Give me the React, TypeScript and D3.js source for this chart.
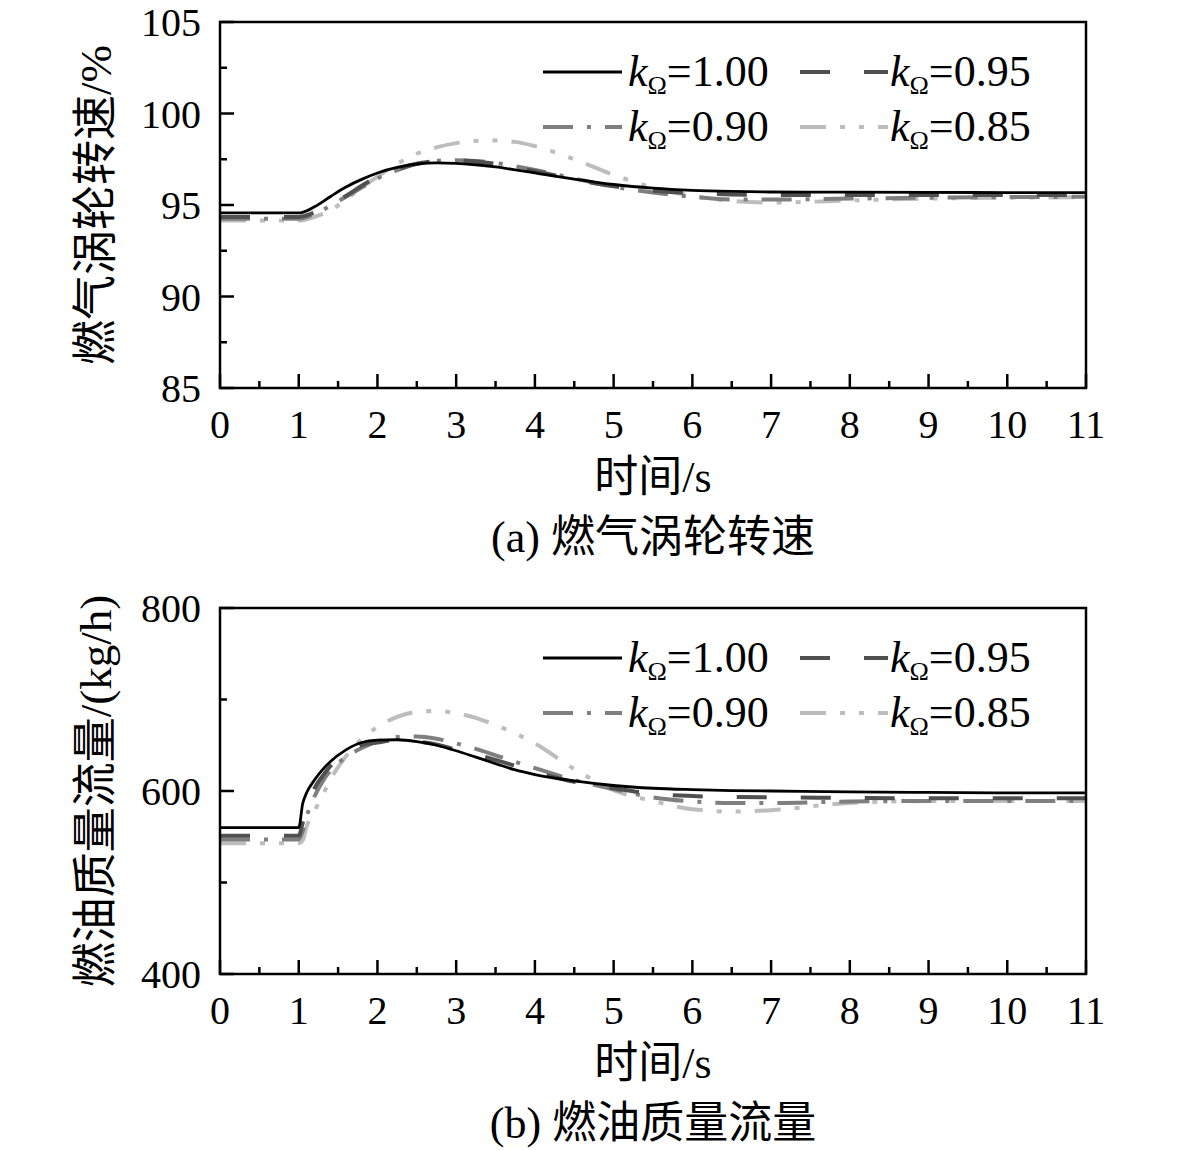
import * as d3 from "d3"

// time grids (s)
const timeA = [0, 1.0, 1.05, 1.2, 1.4, 1.6, 1.8, 2.0, 2.25, 2.5, 2.75, 3.0, 3.25, 3.5, 3.75, 4.0, 4.5, 5.0, 5.5, 6.0, 6.5, 7.0, 8.0, 9.0, 10.0, 11.0]
const timeB = [0, 1.0, 1.05, 1.1, 1.2, 1.3, 1.4, 1.6, 1.8, 2.0, 2.25, 2.5, 2.75, 3.0, 3.25, 3.5, 3.75, 4.0, 4.5, 5.0, 5.5, 6.0, 6.5, 7.0, 8.0, 9.0, 10.0, 11.0]

// gas turbine speed (%)
const speed100 = [94.57, 94.57, 94.6, 94.9, 95.45, 95.98, 96.4, 96.75, 97.05, 97.24, 97.3, 97.28, 97.2, 97.08, 96.92, 96.75, 96.42, 96.12, 95.92, 95.8, 95.74, 95.71, 95.7, 95.69, 95.68, 95.68]
const speed95 = [94.35, 94.35, 94.38, 94.6, 95.0, 95.5, 96.05, 96.55, 96.95, 97.25, 97.4, 97.45, 97.38, 97.25, 97.05, 96.85, 96.4, 96.02, 95.78, 95.65, 95.58, 95.55, 95.55, 95.55, 95.55, 95.55]
const speed90 = [94.25, 94.25, 94.28, 94.5, 94.95, 95.45, 95.95, 96.45, 96.9, 97.25, 97.42, 97.45, 97.4, 97.3, 97.12, 96.92, 96.45, 96.0, 95.68, 95.45, 95.3, 95.3, 95.35, 95.4, 95.43, 95.45]
const speed85 = [94.15, 94.15, 94.17, 94.35, 94.7, 95.3, 95.95, 96.55, 97.25, 97.8, 98.15, 98.38, 98.5, 98.52, 98.45, 98.22, 97.5, 96.65, 95.95, 95.5, 95.22, 95.13, 95.25, 95.35, 95.4, 95.42]

// fuel mass flow (kg/h)
const fuel100 = [560, 560, 586, 598, 612, 623, 632, 645, 653, 655.5, 656, 654, 650, 644, 637, 630, 623, 618, 611, 606, 603, 601.5, 600.5, 600, 599, 598.5, 598, 598]
const fuel95 = [551, 551, 565, 580, 603, 616, 627, 641, 650, 653, 655.7, 654, 651, 645, 640, 634, 627.5, 621, 610, 603, 597, 594.5, 593.5, 593, 592.5, 592, 592, 592]
const fuel90 = [547, 547, 556, 572, 594, 610, 622, 637, 647, 654, 659, 659.5, 657, 652, 646, 639, 632, 625, 612, 602, 593, 588.5, 587, 587, 588.5, 589, 589, 589]
const fuel85 = [543, 543, 546, 561, 578, 595, 612, 638, 657, 670, 681, 686.5, 687.5, 685, 680, 672, 663, 652, 624, 601, 589, 580, 577.5, 579, 587, 589, 589, 589]

const kLabels = ["1.00", "0.95", "0.90", "0.85"]
const xTicks = d3.range(0, 12)

const styles = [
  { color: "#000000", width: 2.8, dash: "" },
  { color: "#505050", width: 4, dash: "30 34" },
  { color: "#7f7f7f", width: 4, dash: "30 14 4 14" },
  { color: "#bdbdbd", width: 4, dash: "26 14 5 14 5 14" },
]

const FONT = "'Liberation Serif', 'Times New Roman', 'Noto Sans CJK SC', serif"

interface PanelProps {
  top: number
  time: number[]
  series: number[][]
  yDomain: [number, number]
  yMajor: number[]
  yMinor: number[]
  yTitle: string
  caption: string
}

function Panel({ top, time, series, yDomain, yMajor, yMinor, yTitle, caption }: PanelProps) {
  const left = 220
  const right = 1086
  const bottom = top + 366

  const x = d3.scaleLinear().domain([0, 11]).range([left, right])
  const y = d3.scaleLinear().domain(yDomain).range([bottom, top])

  const line = d3.line<number>()
    .x((_, i) => x(time[i]))
    .y((d) => y(d))
    .curve(d3.curveMonotoneX)

  const xMinor = d3.range(0.5, 11, 1)

  return (
    <g fontFamily={FONT}>
      {/* series, black drawn last */}
      {series.map((s, i) => (
        <path
          key={i}
          d={line(s) || ""}
          fill="none"
          stroke={styles[i].color}
          strokeWidth={styles[i].width}
          strokeDasharray={styles[i].dash}
        />
      )).reverse()}

      {/* frame */}
      <rect x={left} y={top} width={right - left} height={bottom - top} fill="none" stroke="#000" strokeWidth={2.5} />

      {/* x ticks */}
      {xTicks.map((t) => (
        <g key={t}>
          <line x1={x(t)} x2={x(t)} y1={bottom} y2={bottom - 14} stroke="#000" strokeWidth={2.5} />
          <text x={x(t)} y={bottom + 50} textAnchor="middle" fontSize={40}>{t}</text>
        </g>
      ))}
      {xMinor.map((t) => (
        <line key={t} x1={x(t)} x2={x(t)} y1={bottom} y2={bottom - 7} stroke="#000" strokeWidth={2.5} />
      ))}

      {/* y ticks */}
      {yMajor.map((v) => (
        <g key={v}>
          <line x1={left} x2={left + 14} y1={y(v)} y2={y(v)} stroke="#000" strokeWidth={2.5} />
          <text x={201} y={y(v)} dy="0.35em" textAnchor="end" fontSize={40}>{v}</text>
        </g>
      ))}
      {yMinor.map((v) => (
        <line key={v} x1={left} x2={left + 7} y1={y(v)} y2={y(v)} stroke="#000" strokeWidth={2.5} />
      ))}

      {/* titles */}
      <text transform={`translate(111, ${(top + bottom) / 2}) rotate(-90)`} textAnchor="middle" fontSize={45}>{yTitle}</text>
      <text x={(left + right) / 2} y={bottom + 104} textAnchor="middle" fontSize={44}>时间/s</text>
      <text x={(left + right) / 2} y={bottom + 164} textAnchor="middle" fontSize={44}>{caption}</text>

      {/* legend */}
      {kLabels.map((k, i) => {
        const col = i % 2
        const row = Math.floor(i / 2)
        const ly = top + 50 + row * 55
        const x0 = col === 0 ? 543 : 800
        const x1 = col === 0 ? 622 : 888
        const tx = col === 0 ? 628 : 890
        return (
          <g key={k}>
            <line x1={x0} x2={x1} y1={ly} y2={ly} stroke={styles[i].color} strokeWidth={styles[i].width} strokeDasharray={styles[i].dash} />
            <text x={tx} y={ly + 14} fontSize={44}>
              <tspan fontStyle="italic">k</tspan>
              <tspan fontSize={26} dy={8}>Ω</tspan>
              <tspan dy={-8}>={k}</tspan>
            </text>
          </g>
        )
      })}
    </g>
  )
}

export default function App() {
  return (
    <svg width={1181} height={1150} style={{ position: "absolute", left: 0, top: 0, background: "#fff" }}>
      <rect width={1181} height={1150} fill="#fff" />
      <Panel
        top={22}
        time={timeA}
        series={[speed100, speed95, speed90, speed85]}
        yDomain={[85, 105]}
        yMajor={[85, 90, 95, 100, 105]}
        yMinor={[87.5, 92.5, 97.5, 102.5]}
        yTitle="燃气涡轮转速/%"
        caption="(a) 燃气涡轮转速"
      />
      <Panel
        top={608}
        time={timeB}
        series={[fuel100, fuel95, fuel90, fuel85]}
        yDomain={[400, 800]}
        yMajor={[400, 600, 800]}
        yMinor={[500, 700]}
        yTitle="燃油质量流量/(kg/h)"
        caption="(b) 燃油质量流量"
      />
    </svg>
  )
}
